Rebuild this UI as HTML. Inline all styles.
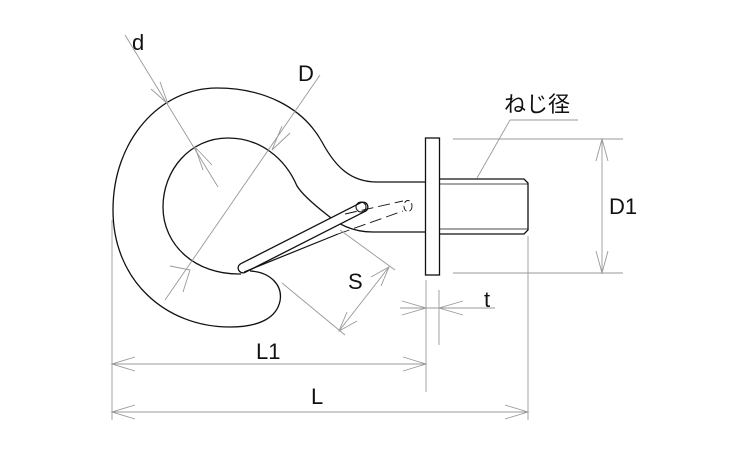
<!DOCTYPE html>
<html><head><meta charset="utf-8"><style>
html,body{margin:0;padding:0;background:#fff;}
svg{display:block;}
text{font-family:"Liberation Sans","Noto Sans CJK JP",sans-serif;fill:#111;}
</style></head><body>
<svg width="750" height="450" viewBox="0 0 750 450" xmlns="http://www.w3.org/2000/svg">
<g fill="none" stroke="#111" stroke-width="1.3">
<path d="M377,182 C350,182 335,166 322,142 C302,106 262,88 217,88 C160,88 113,140 113,210 C113,280 165,327 230,327 C262,327 277,316 280,301 C283,285 270,272 250,271"/>
<path d="M373,232 C352,232 338,224 326,214 C312,203 302,194 297,186 C285,158 260,138 228,138 C190,138 163,170 163,207 C163,245 195,275 241,274"/>
<rect x="425.5" y="138" width="14" height="137" fill="#fff"/>
<path d="M439.5,179 H524 L528,183 V230 L524,234 H439.5"/>
<path d="M439.5,184 H528 M439.5,229 H528" stroke-width="0.8"/>
<path d="M377,182 H425.5 M373,232 H425.5"/>
</g>
<line x1="243" y1="268" x2="363" y2="207" stroke="#111" stroke-width="11" stroke-linecap="round"/>
<line x1="243" y1="268" x2="363" y2="207" stroke="#fff" stroke-width="8.4" stroke-linecap="round"/>
<g fill="none" stroke="#111" stroke-width="1.2">
<path d="M244,272 L338,234"/>
<path d="M338,234 L403,211 M345,214 L403,201" stroke-dasharray="12,5" stroke-width="0.9"/>
<ellipse cx="408" cy="206" rx="4" ry="5.5" stroke-dasharray="6,3" stroke-width="0.9"/>
<circle cx="361" cy="207" r="5" stroke-width="1"/>
</g>
<g fill="none" stroke="#999" stroke-width="0.9">
<line x1="125" y1="35" x2="218" y2="187"/>
<path d="M151,89 L168,104 L160,82"/>
<path d="M212,165 L195,147 L203,170"/>
<line x1="320" y1="75" x2="165" y2="300"/>
<path d="M290,133 L272,150 L282,126"/>
<path d="M170,266 L190,270 L183,292"/>
<line x1="340" y1="230" x2="395" y2="270"/>
<line x1="282" y1="283" x2="345" y2="335"/>
<line x1="389" y1="267" x2="339" y2="331"/>
<path d="M371,277 L389,267 L381,286"/>
<path d="M357,321 L339,331 L347,312"/>
<line x1="453" y1="139" x2="623" y2="139"/>
<line x1="453" y1="273" x2="623" y2="273"/>
<line x1="602" y1="139" x2="602" y2="273"/>
<path d="M596,161 L602,139 L608,161 M596,251 L602,273 L608,251"/>
<path d="M510,120 H578 M510,120 L477,178"/>
<line x1="426" y1="280" x2="426" y2="392"/>
<line x1="439" y1="290" x2="439" y2="345"/>
<line x1="400" y1="308" x2="495" y2="308"/>
<path d="M402,301 L426,308 L402,315 M463,301 L439,308 L463,315"/>
<line x1="112" y1="220" x2="112" y2="420"/>
<line x1="528" y1="236" x2="528" y2="420"/>
<line x1="112" y1="364" x2="426" y2="364"/>
<path d="M135,357 L112,364 L135,371 M403,357 L426,364 L403,371"/>
<line x1="112" y1="412" x2="528" y2="412"/>
<path d="M135,405 L112,412 L135,419 M505,405 L528,412 L505,419"/>
</g>
<g font-size="22">
<text x="132" y="50">d</text>
<text x="298" y="81">D</text>
<text x="504" y="112">ねじ径</text>
<text x="609" y="214">D1</text>
<text x="348" y="289">S</text>
<text x="484" y="307">t</text>
<text x="256" y="359">L1</text>
<text x="311" y="404">L</text>
</g>
</svg>
</body></html>
